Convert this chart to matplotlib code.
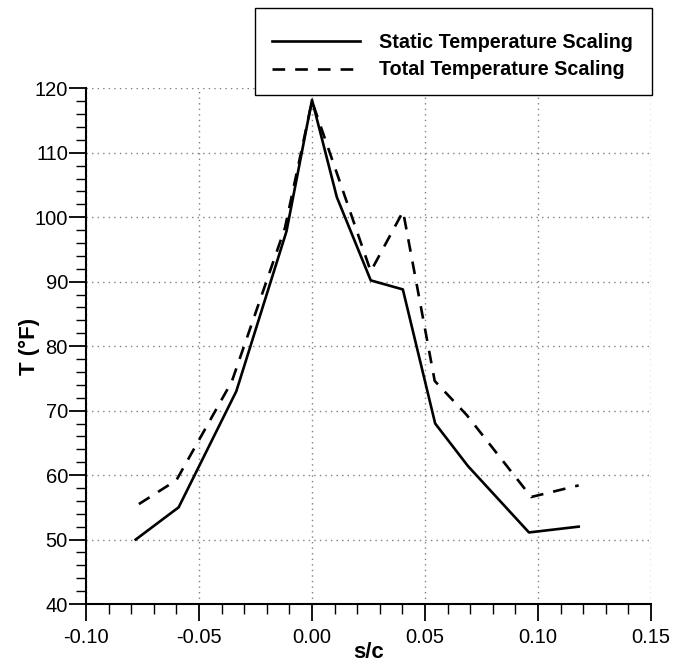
import numpy as np
import matplotlib
matplotlib.use('Agg')
import matplotlib.pyplot as plt
from matplotlib.patches import Rectangle
from matplotlib.ticker import MultipleLocator

plt.rcParams['font.family'] = ['Liberation Sans', 'DejaVu Sans']

# data
s_static = [-0.078, -0.059, -0.0335, -0.0113, 0.0, 0.011, 0.026, 0.0402, 0.0545, 0.069, 0.096, 0.118]
t_static = [50.0, 55.0, 73.0, 97.8, 118.2, 103.1, 90.2, 88.8, 68.0, 61.4, 51.1, 52.0]

s_total = [-0.0766, -0.060, -0.0355, -0.012, 0.0, 0.026, 0.0403, 0.0543, 0.0685, 0.097, 0.118]
t_total = [55.5, 59.2, 74.5, 98.3, 118.0, 91.6, 100.9, 74.6, 69.3, 56.6, 58.4]

fig = plt.figure(figsize=(6.74, 6.63), dpi=100)
ax = fig.add_axes([86/674, 59/663, 565/674, 515.7/663])

l1, = ax.plot(s_static, t_static, color='black', lw=1.9)
l2, = ax.plot(s_total, t_total, color='black', lw=1.9, linestyle=(0, (4.8, 3.8)))

ax.set_xlim(-0.10, 0.15)
ax.set_ylim(40, 120)
ax.xaxis.set_major_locator(MultipleLocator(0.05))
ax.xaxis.set_minor_locator(MultipleLocator(0.01))
ax.yaxis.set_major_locator(MultipleLocator(10))
ax.yaxis.set_minor_locator(MultipleLocator(2))
ax.xaxis.set_major_formatter(plt.FuncFormatter(lambda v, p: '%.2f' % v))

ax.tick_params(which='major', direction='out', length=12, width=1.3, labelsize=14.5)
ax.tick_params(which='minor', direction='out', length=7.5, width=1.0)
ax.tick_params(axis='x', which='major', pad=5)
ax.tick_params(axis='y', which='major', pad=1)

for side in ['top', 'right']:
    ax.spines[side].set_visible(False)
for side in ['left', 'bottom']:
    ax.spines[side].set_linewidth(1.5)

ax.grid(True, which='major', color='#808080', linestyle=(0, (1, 3)), linewidth=1.0)

ax.set_xlabel('s/c', fontsize=16, fontweight='bold', labelpad=-3.5)
ax.set_ylabel('T (°F)', fontsize=16, fontweight='bold', labelpad=-4)

# legend box on top of the plot
box = Rectangle((255/674, 1 - 95/663), 397/674, 87/663, transform=fig.transFigure,
                facecolor='white', edgecolor='black', lw=1.0, zorder=5)
fig.patches.append(box)
leg = fig.legend([l1, l2], ['Static Temperature Scaling', 'Total Temperature Scaling'],
                 loc='center left', bbox_to_anchor=(271.7/674, 1 - 56/663),
                 frameon=False, borderpad=0, borderaxespad=0,
                 handlelength=4.5, handletextpad=0.93, labelspacing=0.45,
                 prop={'size': 14.2, 'weight': 'bold'})
leg.set_zorder(6)

fig.savefig('out.png', dpi=100)
